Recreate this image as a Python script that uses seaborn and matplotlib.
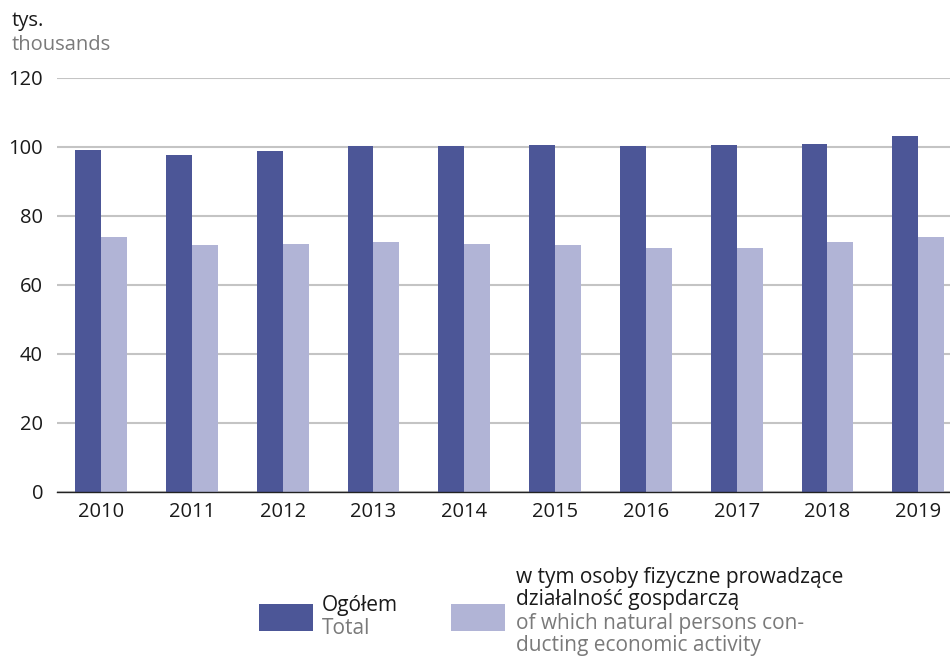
import matplotlib
matplotlib.use("Agg")
import matplotlib.pyplot as plt
import seaborn as sns
import pandas as pd
from matplotlib.patches import Rectangle

years = ["2010", "2011", "2012", "2013", "2014", "2015", "2016", "2017", "2018", "2019"]
total = [99.1, 97.7, 98.8, 100.3, 100.3, 100.6, 100.3, 100.6, 100.9, 103.2]
natural = [73.9, 71.6, 71.9, 72.5, 71.9, 71.6, 70.7, 70.7, 72.5, 73.9]
series_names = ["Ogółem", "w tym osoby fizyczne"]
yticks = [0, 20, 40, 60, 80, 100, 120]

dark = "#4C5697"
light = "#B1B4D6"
gray_text = "#7a7a7a"

sns.set_theme(style="white")
plt.rcParams['font.family'] = ['Open Sans', 'DejaVu Sans']

df = pd.DataFrame({
    "year": years * 2,
    "value": total + natural,
    "series": [series_names[0]] * len(years) + [series_names[1]] * len(years),
})

fig = plt.figure(figsize=(9.5, 6.58), dpi=100)
ax = fig.add_axes([0.06, 0.2523, 0.94, 0.6292])

sns.barplot(data=df, x="year", y="value", hue="series", palette=[dark, light],
            width=0.57, saturation=1, ax=ax, legend=False, linewidth=0, edgecolor="none")

ax.set_ylim(0, 120)
ax.set_xlim(-0.485, 9.35)
ax.set_yticks(yticks)
ax.set_yticklabels([str(t) for t in yticks])
ax.grid(axis="y", color="#c4c4c4", linewidth=1.5)
ax.set_axisbelow(True)
for s in ["top", "right", "left"]:
    ax.spines[s].set_visible(False)
ax.spines["bottom"].set_color("#222222")
ax.spines["bottom"].set_linewidth(1.0)
ax.set_xlabel("")
ax.set_ylabel("")
ax.tick_params(axis="both", length=0, labelsize=14.5, colors="#1a1a1a")
ax.tick_params(axis="x", pad=7)
ax.tick_params(axis="y", pad=10)

# unit labels
fig.text(12 / 950, 1 - 21 / 658, "tys.", fontsize=14.5, color="#1a1a1a", va="center", ha="left")
fig.text(12 / 950, 1 - 45 / 658, "thousands", fontsize=14.5, color=gray_text, va="center", ha="left")

# legend
W, H = 950, 658
fig.patches.append(Rectangle((259 / W, 1 - 631 / H), 54 / W, 27 / H, transform=fig.transFigure,
                             facecolor=dark, edgecolor="none"))
fig.patches.append(Rectangle((451 / W, 1 - 631 / H), 54 / W, 27 / H, transform=fig.transFigure,
                             facecolor=light, edgecolor="none"))
fs = 15
fig.text(322 / W, 1 - 605 / H, "Ogółem", fontsize=fs, color="#1a1a1a", va="center")
fig.text(322 / W, 1 - 628 / H, "Total", fontsize=fs, color=gray_text, va="center")
fig.text(516 / W, 1 - 578 / H, "w tym osoby fizyczne prowadzące", fontsize=fs, color="#1a1a1a", va="center")
fig.text(516 / W, 1 - 600 / H, "działalność gospdarczą", fontsize=fs, color="#1a1a1a", va="center")
fig.text(516 / W, 1 - 623 / H, "of which natural persons con-", fontsize=fs, color=gray_text, va="center")
fig.text(516 / W, 1 - 645 / H, "ducting economic activity", fontsize=fs, color=gray_text, va="center")

fig.savefig("out.png", dpi=100)
